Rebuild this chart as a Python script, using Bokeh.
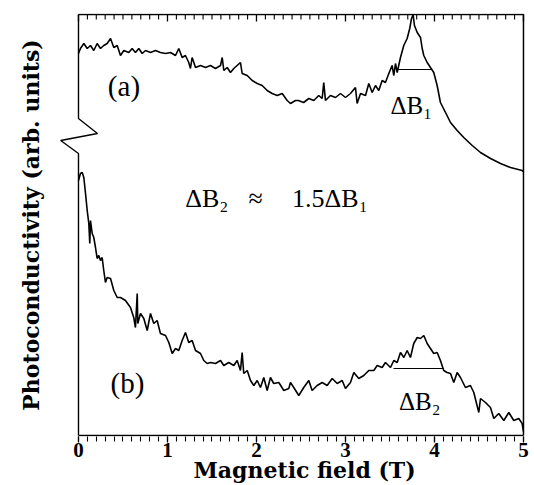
from bokeh.plotting import figure
from bokeh.models import Range1d, LinearAxis, FixedTicker, Title
from bokeh.core.properties import value
from bokeh.embed import file_html
from bokeh.resources import INLINE

# ---------------- data ----------------
field_a = [0.0, 0.022, 0.06, 0.098, 0.135, 0.172, 0.21, 0.247, 0.284, 0.322,
           0.36, 0.397, 0.435, 0.472, 0.509, 0.565, 0.603, 0.64, 0.678, 0.716,
           0.753, 0.809, 0.865, 0.921, 0.978, 1.034, 1.09, 1.127, 1.165, 1.202,
           1.239, 1.258, 1.277, 1.315, 1.371, 1.427, 1.483, 1.539, 1.596, 1.615,
           1.633, 1.671, 1.708, 1.745, 1.82, 1.839, 1.896, 1.952, 2.008, 2.064,
           2.12, 2.176, 2.233, 2.289, 2.345, 2.382, 2.438, 2.47, 2.53, 2.588,
           2.644, 2.70, 2.738, 2.756, 2.775, 2.831, 2.888, 2.944, 3.0, 3.056,
           3.112, 3.131, 3.169, 3.225, 3.262, 3.3, 3.337, 3.374, 3.412, 3.449,
           3.487, 3.524, 3.543, 3.562, 3.581, 3.618, 3.655, 3.693, 3.722, 3.742,
           3.76, 3.775, 3.806, 3.843, 3.862, 3.88, 3.918, 3.955, 3.992, 4.03,
           4.067, 4.124, 4.18, 4.255, 4.329, 4.424, 4.517, 4.63, 4.742, 4.854,
           4.985, 5.0]
signal_a = [382, 387, 392, 387, 390, 385, 392, 387, 390, 392,
            397, 388, 390, 380, 385, 383, 387, 383, 387, 382,
            385, 383, 385, 383, 382, 383, 380, 387, 378, 380,
            373, 367, 378, 368, 370, 368, 370, 367, 370, 378,
            365, 368, 363, 367, 373, 362, 360, 355, 352, 350,
            345, 342, 340, 342, 335, 332, 335, 335, 333, 337,
            335, 340, 337, 353, 335, 340, 338, 342, 338, 342,
            348, 332, 342, 340, 352, 343, 350, 345, 355, 353,
            362, 370, 360, 372, 363, 378, 390, 397, 407, 417,
            421, 410, 403, 398, 387, 380, 373, 368, 363, 350,
            333, 323, 313, 305, 298, 290, 283, 277, 272, 268,
            265, 264]

field_b = [0.0, 0.022, 0.042, 0.06, 0.079, 0.098, 0.116, 0.127, 0.135, 0.154,
           0.172, 0.191, 0.21, 0.228, 0.247, 0.266, 0.284, 0.303, 0.322, 0.36,
           0.397, 0.435, 0.472, 0.528, 0.584, 0.621, 0.64, 0.66, 0.666, 0.697,
           0.734, 0.772, 0.809, 0.846, 0.884, 0.921, 0.978, 1.015, 1.053, 1.09,
           1.127, 1.165, 1.202, 1.239, 1.277, 1.315, 1.371, 1.408, 1.446, 1.483,
           1.539, 1.596, 1.633, 1.689, 1.745, 1.783, 1.82, 1.839, 1.857, 1.896,
           1.933, 1.97, 2.008, 2.045, 2.082, 2.12, 2.157, 2.194, 2.251, 2.307,
           2.363, 2.382, 2.419, 2.475, 2.531, 2.588, 2.625, 2.682, 2.738, 2.794,
           2.851, 2.907, 2.963, 3.0, 3.056, 3.094, 3.149, 3.206, 3.262, 3.318,
           3.356, 3.412, 3.449, 3.506, 3.543, 3.581, 3.618, 3.656, 3.693, 3.73,
           3.767, 3.806, 3.843, 3.88, 3.918, 3.955, 3.992, 4.03, 4.067, 4.104,
           4.142, 4.18, 4.217, 4.255, 4.292, 4.348, 4.404, 4.442, 4.498, 4.517,
           4.573, 4.629, 4.667, 4.722, 4.779, 4.835, 4.891, 4.947, 4.985, 5.0]
signal_b = [255, 262, 263, 258, 242, 225, 212, 192, 215, 202,
            198, 188, 177, 180, 175, 178, 165, 153, 158, 157,
            145, 138, 138, 135, 128, 118, 108, 142, 112, 122,
            117, 105, 122, 112, 115, 102, 100, 93, 82, 87,
            85, 95, 103, 93, 95, 85, 82, 75, 72, 73,
            72, 75, 70, 73, 70, 75, 65, 83, 62, 65,
            55, 50, 55, 48, 58, 45, 58, 52, 53, 45,
            47, 53, 48, 40, 48, 55, 45, 50, 53, 50,
            57, 52, 55, 47, 53, 63, 57, 60, 65, 65,
            70, 68, 73, 68, 75, 73, 83, 78, 85, 78,
            92, 98, 97, 100, 92, 87, 82, 83, 75, 65,
            63, 62, 53, 63, 58, 48, 50, 43, 23, 37,
            33, 28, 17, 22, 15, 23, 15, 17, 12, 4]

# half-width markers (field start, field end, level)
fwhm_a = [3.58, 3.97, 366]
fwhm_b = [3.54, 4.10, 67]

tick_values = [0, 1, 2, 3, 4, 5]
minor_values = [i / 10 for i in range(0, 51)]

# axis-break levels on the left axis
break_levels = [317, 302, 295, 282]
break_offsets = [0.0, 0.213, -0.2, 0.0]

X_MIN, X_MAX = 0.0, 5.0
Y_TOP = 421
MAJOR_LEN, MINOR_LEN = 7, 5

# ---------------- figure ----------------
p = figure(width=534, height=485, output_backend="svg", toolbar_location=None,
           x_range=Range1d(-0.292, 5.034), y_range=Range1d(-1, 422),
           x_axis_type=None, y_axis_type=None,
           min_border_left=52, min_border_right=8, min_border_top=13,
           min_border_bottom=49, background_fill_color="white",
           border_fill_color="white", outline_line_color=None)
p.xgrid.visible = False
p.ygrid.visible = False

ticker = FixedTicker(ticks=tick_values, minor_ticks=minor_values)

bottom = LinearAxis(ticker=ticker)
bottom.axis_line_color = None
bottom.major_tick_in = 0
bottom.major_tick_out = 6
bottom.minor_tick_in = 0
bottom.minor_tick_out = 5
bottom.major_tick_line_width = 1.3
bottom.minor_tick_line_width = 1.1
bottom.major_tick_line_color = "black"
bottom.minor_tick_line_color = "black"
bottom.major_label_text_font = "Liberation Serif"
bottom.major_label_text_font_style = "bold"
bottom.major_label_text_font_size = "21px"
bottom.major_label_text_color = "black"
bottom.major_label_standoff = 0
p.add_layout(bottom, "below")

x_title = Title(text="Magnetic field (T)", align="left", offset=141,
                standoff=-10, text_font="DejaVu Serif", text_font_style="bold",
                text_font_size="22px", text_color="black")
p.add_layout(x_title, "below")

y_title = Title(text="Photoconductivity (arb. units)", align="center", offset=6,
                standoff=17, text_font="DejaVu Serif", text_font_style="bold",
                text_font_size="22px", text_color="black")
p.add_layout(y_title, "left")

# frame: top, right, bottom borders
p.line([X_MIN, X_MAX, X_MAX], [Y_TOP, Y_TOP, 0], line_color="black", line_width=1.5)
p.line([X_MIN, X_MAX], [0, 0], line_color="black", line_width=1.5)

# inward ticks on the top border, from the tick arrays
top_minor = [v for v in minor_values if v not in tick_values]
p.segment(x0=top_minor, y0=[Y_TOP] * len(top_minor), x1=top_minor,
          y1=[Y_TOP - MINOR_LEN] * len(top_minor), line_color="black", line_width=1.1)
p.segment(x0=tick_values, y0=[Y_TOP] * len(tick_values), x1=tick_values,
          y1=[Y_TOP - MAJOR_LEN] * len(tick_values), line_color="black", line_width=1.3)

# left axis with a break
lx = [X_MIN] + [X_MIN + o for o in break_offsets] + [X_MIN]
ly = [Y_TOP] + break_levels + [0]
p.line(lx, ly, line_color="black", line_width=1.4)

# curves
p.line(field_a, signal_a, line_color="black", line_width=1.6)
p.line(field_b, signal_b, line_color="black", line_width=1.6)

# half width markers
p.line(fwhm_a[:2], [fwhm_a[2]] * 2, line_color="black", line_width=1.1)
p.line(fwhm_b[:2], [fwhm_b[2]] * 2, line_color="black", line_width=1.1)

serif = value("Liberation Serif")
p.text(x=[0.33, 0.36], y=[350, 53], text=["(a)", "(b)"], text_font=serif,
       text_font_size="29px", text_baseline="alphabetic", text_align="left",
       text_color="black")
p.text(x=[3.506, 3.60], y=[330, 34], text=["ΔB₁", "ΔB₂"], text_font=serif,
       text_font_size="25px", text_baseline="alphabetic", text_align="left",
       text_color="black")
p.text(x=[1.20, 1.91, 2.40], y=[237, 237, 237],
       text=["ΔB₂", "≈", "1.5ΔB₁"], text_font=serif,
       text_font_size="26px", text_baseline="alphabetic", text_align="left",
       text_color="black")

open("out.html", "w").write(file_html(p, INLINE))
